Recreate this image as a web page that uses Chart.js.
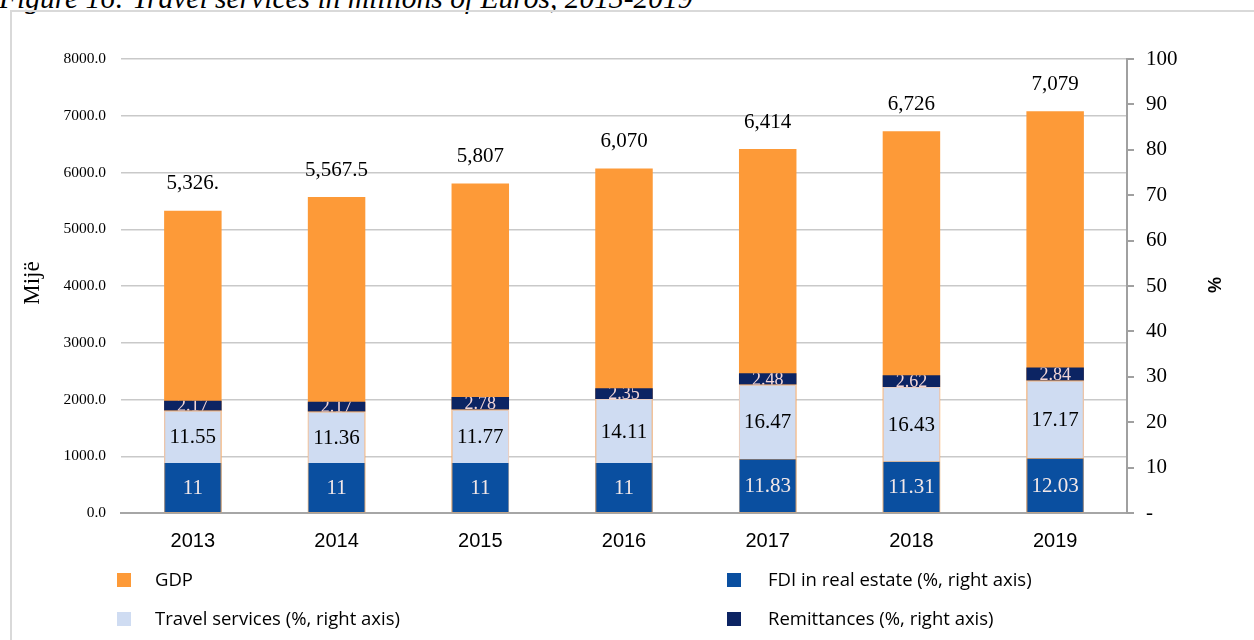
<!DOCTYPE html>
<html>
<head>
<meta charset="utf-8">
<script src="https://cdn.jsdelivr.net/npm/chart.js@4.4.1/dist/chart.umd.min.js"></script>
<style>
  html, body { margin: 0; padding: 0; background: #fff; overflow: hidden; }
  body { width: 1254px; height: 640px; position: relative; }
  #title { position: absolute; left: -1px; top: -16px; font: italic 29.5px "Liberation Serif", serif; line-height: 29.5px; color: #000; white-space: nowrap; }
  #frame { position: absolute; left: 10px; top: 10px; width: 1300px; height: 700px; border-left: 2px solid #d9d9d9; border-top: 2px solid #d9d9d9; }
  #wrap { position: absolute; left: 0; top: 0; width: 1254px; height: 640px; }
  .leg { position: absolute; font: 18.5px "Open Sans", "Liberation Sans", sans-serif; color: #000; white-space: nowrap; }
  .box { position: absolute; width: 14px; height: 14px; }
</style>
</head>
<body>
<div id="title">Figure 16: Travel services in millions of Euros, 2013-2019</div>
<div id="frame"></div>
<div id="wrap"><canvas id="c" width="1254" height="640"></canvas></div>
<div class="box" style="left:117px;top:573px;background:#fd9a38"></div>
<div class="leg" style="left:155px;top:566px">GDP</div>
<div class="box" style="left:117px;top:612px;background:#cfdcf2"></div>
<div class="leg" style="left:155px;top:605px">Travel services (%, right axis)</div>
<div class="box" style="left:727px;top:573px;background:#0a4fa0"></div>
<div class="leg" style="left:768px;top:566px">FDI in real estate (%, right axis)</div>
<div class="box" style="left:727px;top:612px;background:#0c2463"></div>
<div class="leg" style="left:768px;top:605px">Remittances (%, right axis)</div>
<script>
const years = ["2013", "2014", "2015", "2016", "2017", "2018", "2019"];
const gdp = [5326, 5567.5, 5807, 6070, 6414, 6726, 7079];
const gdpLabels = ["5,326.", "5,567.5", "5,807", "6,070", "6,414", "6,726", "7,079"];
const fdi = [11, 11, 11, 11, 11.83, 11.31, 12.03];
const travel = [11.55, 11.36, 11.77, 14.11, 16.47, 16.43, 17.17];
const remit = [2.17, 2.17, 2.78, 2.35, 2.48, 2.62, 2.84];
const leftTicks = [0, 1000, 2000, 3000, 4000, 5000, 6000, 7000, 8000];

const SERIF = '"Liberation Serif", "Times New Roman", serif';

const labelPlugin = {
  id: 'labels',
  afterDatasetsDraw(chart) {
    const ctx = chart.ctx;
    ctx.save();
    chart.data.datasets.forEach((ds, di) => {
      const meta = chart.getDatasetMeta(di);
      meta.data.forEach((bar, i) => {
        const p = bar.getProps(['x', 'y', 'base', 'width'], true);
        ctx.textAlign = 'center';
        ctx.textBaseline = 'middle';
        if (ds.labelKind === 'gdp') {
          ctx.fillStyle = '#000';
          ctx.font = '21px ' + SERIF;
          ctx.fillText(gdpLabels[i], p.x, p.y - 27);
        } else {
          const top = Math.min(p.y, p.base), bot = Math.max(p.y, p.base);
          ctx.save();
          ctx.beginPath();
          ctx.rect(p.x - p.width / 2, top, p.width, bot - top);
          ctx.clip();
          ctx.fillStyle = ds.labelColor;
          ctx.font = ds.labelSize + 'px ' + SERIF;
          ctx.fillText(String(ds.data[i]), p.x, (top + bot) / 2 + 1);
          ctx.restore();
        }
      });
    });
    // axis titles
    ctx.fillStyle = '#000';
    ctx.save();
    ctx.translate(33, 283);
    ctx.rotate(-Math.PI / 2);
    ctx.font = '23px ' + SERIF;
    ctx.textAlign = 'center';
    ctx.textBaseline = 'middle';
    ctx.fillText('Mijë', 0, 0);
    ctx.restore();
    ctx.save();
    ctx.translate(1213, 285);
    ctx.rotate(Math.PI / 2);
    ctx.font = 'bold 18px "Liberation Sans", Arial, sans-serif';
    ctx.textAlign = 'center';
    ctx.textBaseline = 'middle';
    ctx.fillText('%', 0, 0);
    ctx.restore();
    ctx.restore();
  }
};

new Chart(document.getElementById('c'), {
  type: 'bar',
  data: {
    labels: years,
    datasets: [
      { label: 'GDP', data: gdp, yAxisID: 'y', backgroundColor: '#fd9a38', order: 1, labelKind: 'gdp' },
      { label: 'FDI in real estate (%, right axis)', data: fdi, yAxisID: 'y1', backgroundColor: '#0a4fa0', borderColor: '#7f8fa6', borderWidth: {left: 1, right: 1, top: 0, bottom: 0}, order: 0, labelColor: '#f3e8e8', labelSize: 21 },
      { label: 'Travel services (%, right axis)', data: travel, yAxisID: 'y1', backgroundColor: '#cfdcf2', borderColor: '#e9cfc4', borderWidth: 1, order: 0, labelColor: '#000', labelSize: 21 },
      { label: 'Remittances (%, right axis)', data: remit, yAxisID: 'y1', backgroundColor: '#0c2463', order: 0, labelColor: '#f3d6d6', labelSize: 18 }
    ]
  },
  options: {
    responsive: false,
    animation: false,
    events: [],
    layout: { padding: { left: 0, right: 0, top: 59, bottom: 87 } },
    plugins: { legend: { display: false }, tooltip: { enabled: false } },
    datasets: { bar: { barPercentage: 0.8, categoryPercentage: 0.5 } },
    scales: {
      x: {
        stacked: true,
        grid: { display: false },
        border: { display: true, color: '#a6a6a6', width: 2 },
        ticks: { color: '#000', font: { family: '"Liberation Sans", Arial, sans-serif', size: 20 }, padding: 8 },
        afterFit(s) { s.height = 40; }
      },
      y: {
        position: 'left',
        stacked: false,
        min: 0, max: 8000,
        afterBuildTicks(s) { s.ticks = leftTicks.map(v => ({ value: v })); },
        grid: { color: '#c9c9c9', lineWidth: 1.5, drawTicks: false },
        border: { display: false },
        ticks: { color: '#000', padding: 15, font: { family: SERIF, size: 15.5 }, callback: v => Number(v).toFixed(1) },
        afterFit(s) { s.width = 121; }
      },
      y1: {
        position: 'right',
        stacked: true,
        min: 0, max: 100,
        ticks: { stepSize: 10, color: '#000', padding: 12, font: { family: SERIF, size: 21 }, callback: v => v === 0 ? '-' : String(v) },
        grid: { drawOnChartArea: false, drawTicks: true, tickLength: 7, color: '#a0a0a0', lineWidth: 2 },
        border: { display: true, color: '#a0a0a0', width: 2 },
        afterFit(s) { s.width = 127; }
      }
    }
  },
  plugins: [labelPlugin]
});
</script>
</body>
</html>
